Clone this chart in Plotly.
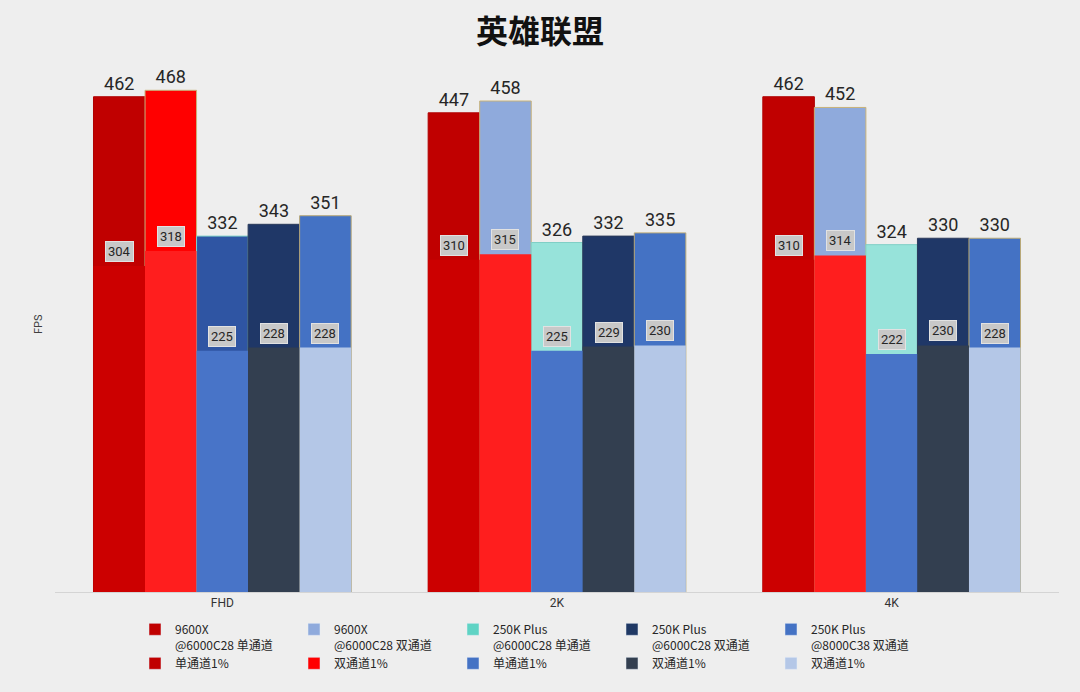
import plotly.graph_objects as go

categories = ["FHD", "2K", "4K"]

avg_names = ["9600X<br>@6000C28 单通道", "9600X<br>@6000C28 双通道",
             "250K Plus<br>@6000C28 单通道", "250K Plus<br>@6000C28 双通道",
             "250K Plus<br>@8000C38 双通道"]
low_names = ["单通道1%", "双通道1%", "单通道1%", "双通道1%", "双通道1%"]

avg_values = [
    [462, 447, 462],
    [468, 458, 452],
    [332, 326, 324],
    [343, 332, 330],
    [351, 335, 330],
]
low_values = [
    [304, 310, 310],
    [318, 315, 314],
    [225, 225, 222],
    [228, 229, 230],
    [228, 230, 228],
]

# per-bar colours (the FHD group uses some different colours)
avg_colors = [
    ["#C00000", "#C00000", "#C00000"],
    ["#FF0000", "#8FAADC", "#8FAADC"],
    ["#2F55A3", "#97E3DA", "#97E3DA"],
    ["#1F3767", "#1F3767", "#1F3767"],
    ["#4472C4", "#4472C4", "#4472C4"],
]
avg_line_colors = ["#B00000", "#C8B27A", "#7FCFC6", "#2A3A5A", "#B8A878"]
avg_legend_colors = ["#C00000", "#8FAADC", "#5FD3C4", "#1F3864", "#4472C4"]
low_colors = ["#CC0000", "#FF1E1E", "#4874C8", "#333F50", "#B4C7E7"]
low_legend_colors = ["#C00000", "#FF0000", "#4472C4", "#333F50", "#B4C7E7"]

bar_w = 0.154
n = len(avg_values)
cat_idx = list(range(len(categories)))

fig = go.Figure()

def xs(j):
    return [c + (j - (n - 1) / 2) * bar_w for c in cat_idx]

for j in range(n):
    fig.add_trace(go.Bar(
        x=xs(j), y=avg_values[j], width=bar_w,
        marker=dict(color=avg_colors[j], line=dict(width=1, color=avg_line_colors[j])),
        texttemplate="%{y}", textposition="outside",
        textfont=dict(size=18, color="#262626", family="Roboto"),
        cliponaxis=False, showlegend=False, hoverinfo="y",
    ))
for j in range(n):
    fig.add_trace(go.Bar(
        x=xs(j), y=low_values[j], width=bar_w,
        marker=dict(color=low_colors[j], line=dict(width=0)),
        showlegend=False, hoverinfo="y",
    ))
    for xv, yv in zip(xs(j), low_values[j]):
        fig.add_annotation(
            x=xv, y=yv, xref="x", yref="y", text=str(yv), showarrow=False,
            yanchor="bottom", yshift=4,
            font=dict(size=13, color="#262626", family="Roboto"),
            bgcolor="#C8C8C8", bordercolor="#E2E2E2", borderwidth=1, borderpad=2,
        )

# legend entries
for j in range(n):
    fig.add_trace(go.Bar(x=[None], y=[None], name=avg_names[j],
                         marker=dict(color=avg_legend_colors[j]),
                         legend="legend", showlegend=True))
for j in range(n):
    fig.add_trace(go.Bar(x=[None], y=[None], name=low_names[j],
                         marker=dict(color=low_legend_colors[j]),
                         legend="legend2", showlegend=True))

fig.add_annotation(
    xref="paper", yref="paper", x=(38 - 55) / 1004, y=0.5, xanchor="center",
    text="FPS", textangle=-90, showarrow=False,
    font=dict(size=11, color="#404040", family="Roboto"),
)

legend_common = dict(
    orientation="h", xanchor="left", yanchor="top",
    entrywidth=114, entrywidthmode="pixels", itemwidth=30,
    font=dict(size=12, color="#262626", family="Noto Sans CJK SC"),
    bgcolor="rgba(0,0,0,0)", valign="top", traceorder="normal",
)

fig.update_layout(
    width=1080, height=692,
    margin=dict(l=55, r=21, t=56, b=100),
    paper_bgcolor="#EEEEEE", plot_bgcolor="#EEEEEE",
    barmode="overlay",
    title=dict(text="<b>英雄联盟</b>", x=0.5, xanchor="center", y=1 - 32 / 692,
               yanchor="middle",
               font=dict(size=32, color="#111111", family="Noto Sans CJK SC")),
    xaxis=dict(range=[-0.5, 2.5], tickvals=cat_idx, ticktext=categories,
               showgrid=False, zeroline=False, showline=True, linecolor="#D4D4D4",
               linewidth=1, ticks="",
               tickfont=dict(size=12, color="#333333", family="Roboto")),
    yaxis=dict(range=[0, 500], showticklabels=False, showgrid=False,
               zeroline=False, showline=False, ticks=""),
    legend=dict(x=(135 - 55) / 1004, y=-(615 - 592) / 536, **legend_common),
    legend2=dict(x=(135 - 55) / 1004, y=-(649 - 592) / 536, **legend_common),
    showlegend=True,
)

fig.write_html("out.html")
